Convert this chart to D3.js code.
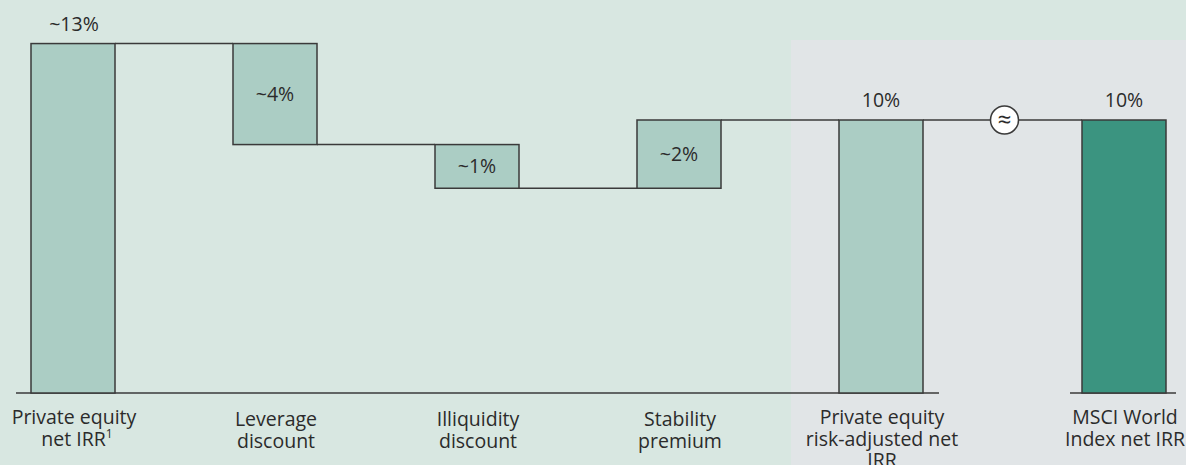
<!DOCTYPE html>
<html>
<head>
<meta charset="utf-8">
<script src="https://cdn.jsdelivr.net/npm/d3@7"></script>
<style>
  html, body { margin: 0; padding: 0; background: #d8e7e1; overflow: hidden; }
  svg { display: block; }
  text { font-family: "Open Sans", "Noto Sans", sans-serif; fill: #2b2b2b; }
</style>
</head>
<body>
<svg id="chart" width="1186" height="465"></svg>
<script>
// Waterfall: private equity net IRR bridged to a risk-adjusted figure, compared with MSCI World
const categories = [
  "Private equity net IRR",
  "Leverage discount",
  "Illiquidity discount",
  "Stability premium",
  "Private equity risk-adjusted net IRR",
  "MSCI World Index net IRR"
];
const categoryLines = [
  ["Private equity", "net IRR"],
  ["Leverage", "discount"],
  ["Illiquidity", "discount"],
  ["Stability", "premium"],
  ["Private equity", "risk-adjusted net", "IRR"],
  ["MSCI World", "Index net IRR"]
];
const footnoteMarks = ["1", "", "", "", "", ""];
const stepKinds = ["total", "delta", "delta", "delta", "total", "total"];
const values = [12.8, -3.7, -1.6, 2.5, 10, 10];
const valueLabels = ["~13%", "~4%", "~1%", "~2%", "10%", "10%"];

const W = 1186, H = 465;
const baseY = 393;
const barW = 84, step = 202, firstLeft = 31;
const breakGap = 41; // extra room before the index bar, where the "≈" break sits

const svg = d3.select("#chart");

// running totals for the floating bars
let running = 0;
const bars = values.map((v, i) => {
  let start, end;
  if (stepKinds[i] === "total") { start = 0; end = v; }
  else { start = running; end = running + v; }
  running = end;
  return { cat: categories[i], i, start, end, lo: Math.min(start, end), hi: Math.max(start, end), kind: stepKinds[i] };
});

const pad = 1 - barW / step;
const xBand = d3.scaleBand()
  .domain(categories)
  .range([firstLeft, firstLeft + (categories.length - pad) * step])
  .paddingInner(pad)
  .paddingOuter(0);
const xLeft = c => xBand(c) + (c === categories[categories.length - 1] ? breakGap : 0);
const xMid = c => xLeft(c) + xBand.bandwidth() / 2;
const bw = xBand.bandwidth();

const y = d3.scaleLinear().domain([0, 10]).range([baseY, 120]);

// grey comparison panel behind the last two bars
svg.append("rect")
  .attr("x", xLeft(categories[4]) - 48)
  .attr("y", 40)
  .attr("width", W)
  .attr("height", H)
  .attr("fill", "#e1e5e7");

const lineColor = "#3a3a3a";

// baselines
svg.append("line")
  .attr("x1", xLeft(categories[0]) - 15).attr("x2", xLeft(categories[4]) + bw + 16)
  .attr("y1", y(0)).attr("y2", y(0))
  .attr("stroke", lineColor).attr("stroke-width", 1.6);
svg.append("line")
  .attr("x1", xLeft(categories[5]) - 12).attr("x2", xLeft(categories[5]) + bw + 10)
  .attr("y1", y(0)).attr("y2", y(0))
  .attr("stroke", lineColor).attr("stroke-width", 1.6);

// connectors between consecutive bars
for (let k = 0; k < bars.length - 1; k++) {
  const a = bars[k], b = bars[k + 1];
  svg.append("line")
    .attr("x1", xLeft(a.cat) + bw).attr("x2", xLeft(b.cat))
    .attr("y1", y(a.end)).attr("y2", y(a.end))
    .attr("stroke", lineColor).attr("stroke-width", 1.5);
}

// bars
svg.selectAll("rect.bar")
  .data(bars)
  .join("rect")
  .attr("class", "bar")
  .attr("x", d => xLeft(d.cat))
  .attr("y", d => y(d.hi))
  .attr("width", bw)
  .attr("height", d => y(d.lo) - y(d.hi))
  .attr("fill", (d, i) => i === bars.length - 1 ? "#3b9480" : "#abcdc4")
  .attr("stroke", lineColor)
  .attr("stroke-width", 1.5);

// break marker between the adjusted IRR and the index
const bx = (xLeft(categories[4]) + bw + xLeft(categories[5])) / 2 + 2;
const by = y(bars[4].end);
svg.append("circle")
  .attr("cx", bx).attr("cy", by).attr("r", 14)
  .attr("fill", "#ffffff").attr("stroke", lineColor).attr("stroke-width", 1.5);
svg.append("text")
  .attr("x", bx).attr("y", by + 8)
  .attr("text-anchor", "middle")
  .style("font-size", "24px")
  .text("≈");

// value labels
const fs = 19.5;
svg.selectAll("text.val")
  .data(bars)
  .join("text")
  .attr("class", "val")
  .attr("text-anchor", "middle")
  .attr("x", d => xMid(d.cat) + (d.i === 0 ? 1 : 0))
  .attr("y", d => d.kind === "total" ? y(d.hi) - 13 : (y(d.hi) + y(d.lo)) / 2 + 7)
  .style("font-size", fs + "px")
  .text((d, i) => valueLabels[i]);

// category labels, one text element per line
const lineGap = 21.5;
categories.forEach((c, i) => {
  const shift = (i >= 1 && i <= 3) ? 2 : 0;
  categoryLines[i].forEach((ln, j) => {
    const isLast = j === categoryLines[i].length - 1;
    const t = svg.append("text")
      .attr("text-anchor", "middle")
      .style("font-size", fs + "px")
      .attr("x", xMid(c) + 1 + (isLast && footnoteMarks[i] ? 3 : 0))
      .attr("y", 424 + shift + j * lineGap);
    t.append("tspan").text(ln);
    if (isLast && footnoteMarks[i]) {
      t.append("tspan")
        .attr("dy", -8)
        .style("font-size", "12px")
        .text(footnoteMarks[i]);
    }
  });
});
</script>
</body>
</html>
